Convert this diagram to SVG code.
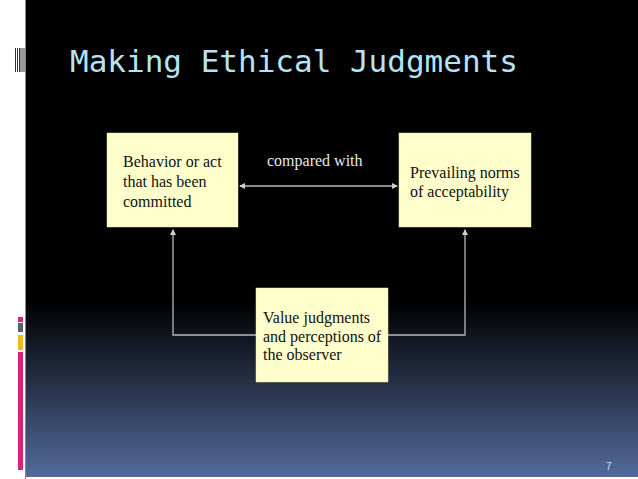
<svg xmlns="http://www.w3.org/2000/svg" width="638" height="479" viewBox="0 0 638 479">
<defs>
<linearGradient id="bg" x1="0" y1="0" x2="0" y2="1">
<stop offset="0" stop-color="#000"/>
<stop offset="0.63" stop-color="#000"/>
<stop offset="0.75" stop-color="#1a2130"/>
<stop offset="1" stop-color="#526a9c"/>
</linearGradient>
<marker id="ah" viewBox="0 0 6 6" refX="5" refY="3" markerWidth="6" markerHeight="6" orient="auto-start-reverse" markerUnits="userSpaceOnUse">
<path d="M0,0 L6,3 L0,6 z" fill="#d0d0d0"/>
</marker>
</defs>
<style>
.box{fill:#ffffcc;stroke:#e8e8b0;stroke-width:0.5}
.t{font-family:"Liberation Serif","Times New Roman",serif;font-size:16px;fill:#111}
.c{fill:none;stroke:#b8b8b8;stroke-width:1.3}
</style>
<rect x="0" y="0" width="638" height="479" fill="#fff"/>
<rect x="26" y="0" width="612" height="477" fill="url(#bg)"/>
<line x1="25.5" y1="0" x2="25.5" y2="479" stroke="#888" stroke-width="1"/>
<g id="barcode" fill="#333">
<rect x="15" y="48" width="1" height="24"/>
<rect x="17" y="48" width="1" height="24"/>
<rect x="19" y="48" width="1.5" height="24"/>
<rect x="21.5" y="48" width="1" height="24"/>
<rect x="23.5" y="48" width="1" height="24"/>
</g>
<g id="bars">
<rect x="18" y="317" width="5" height="5" fill="#d6247a"/>
<rect x="18" y="323" width="5" height="9" fill="#5a5f6e"/>
<rect x="18" y="335" width="5" height="15" fill="#f2b820"/>
<rect x="18" y="352" width="5" height="118" fill="#d6247a"/>
</g>
<text x="70" y="72" font-family="'DejaVu Sans Mono','Liberation Mono',monospace" font-size="31" fill="#b5e3f3">Making Ethical Judgments</text>
<g id="connectors">
<line class="c" x1="240" y1="186" x2="397" y2="186" marker-start="url(#ah)" marker-end="url(#ah)"/>
<polyline class="c" points="256,335 173,335 173,230" marker-end="url(#ah)"/>
<polyline class="c" points="388,335 465,335 465,230" marker-end="url(#ah)"/>
<text x="267" y="166" font-family="'Liberation Serif','Times New Roman',serif" font-size="16" fill="#e8e8e8">compared with</text>
</g>
<g id="behavior">
<rect class="box" x="107" y="133" width="131" height="94"/>
<text class="t" x="123" y="167">Behavior or act</text>
<text class="t" x="123" y="187">that has been</text>
<text class="t" x="123" y="207">committed</text>
</g>
<g id="norms">
<rect class="box" x="399" y="133" width="132" height="94"/>
<text class="t" x="410" y="178">Prevailing norms</text>
<text class="t" x="410" y="197">of acceptability</text>
</g>
<g id="value">
<rect class="box" x="256" y="288" width="132" height="94"/>
<text class="t" x="263" y="323">Value judgments</text>
<text class="t" x="263" y="342">and perceptions of</text>
<text class="t" x="263" y="360">the observer</text>
</g>
<text x="606" y="470" font-family="'Liberation Sans',Arial,sans-serif" font-size="10" fill="#cfe3f5">7</text>
</svg>
